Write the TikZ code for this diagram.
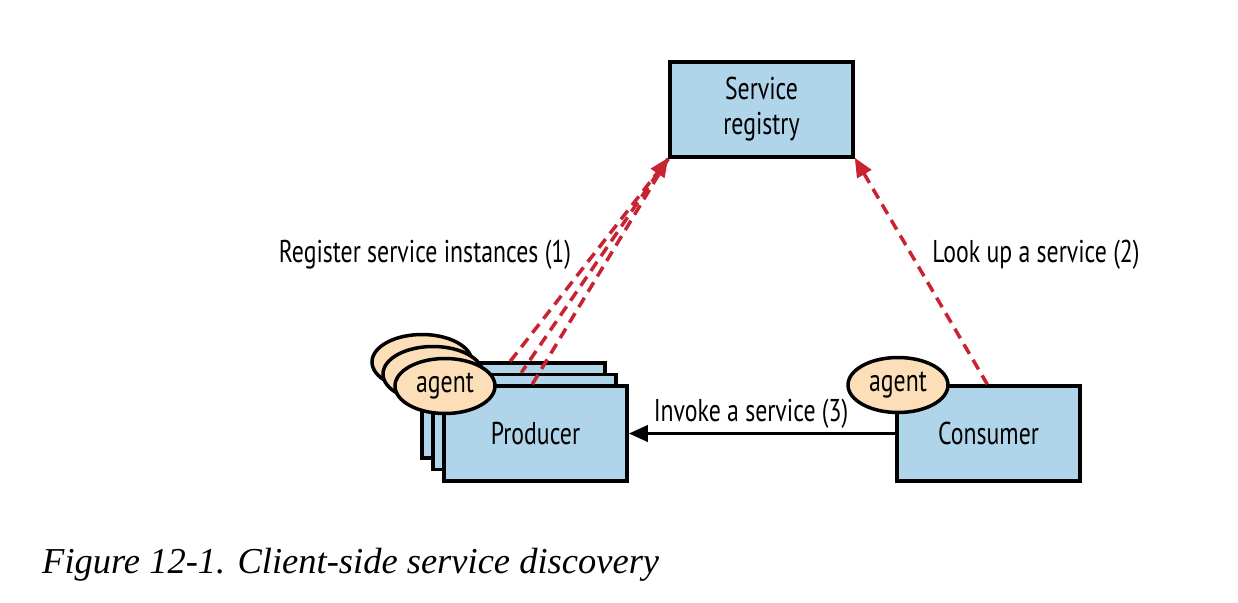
\documentclass[tikz,border=0pt]{standalone}
\usepackage{fontspec}
\setmainfont{PT Sans}[FakeStretch=0.755]
\newfontfamily\capfont{Liberation Serif}
\usetikzlibrary{arrows.meta,shapes.geometric}
\definecolor{boxblue}{RGB}{176,212,234}
\definecolor{agentfill}{RGB}{252,222,184}
\definecolor{dashred}{RGB}{200,35,50}
\tikzset{
  svcbox/.style={draw=black,line width=3.5pt,fill=boxblue,minimum width=183pt,minimum height=95pt,inner sep=0pt,align=center,font=\fontsize{31.5}{35}\selectfont},
  agentnode/.style={draw=black,line width=3.5pt,fill=agentfill,ellipse,minimum width=100pt,minimum height=55pt,inner sep=0pt,font=\fontsize{31.5}{32}\selectfont},
  reddash/.style={draw=dashred,line width=3.5pt,dash pattern=on 11pt off 7pt},
  lbl/.style={font=\fontsize{31.5}{32}\selectfont,inner sep=0pt}
}
\begin{document}
\begin{tikzpicture}[x=1pt,y=-1pt]
\useasboundingbox (0,0) rectangle (1238,602);
% registry
\node[svcbox] (reg) at (761.5,109.5) {Service\\registry};
% producer stack
\node[svcbox] (p1) at (513.5,410.5) {};
\node[svcbox] (p2) at (524.5,422) {};
\node[svcbox] (p3) at (535.5,433.5) {Producer};
\node[agentnode] (a1) at (422,362) {};
\node[agentnode] (a2) at (433,374) {};
\node[agentnode] (a3) at (445,386) {agent};
% consumer
\node[svcbox] (cons) at (988.5,433.5) {Consumer};
\node[agentnode] (ca) at (898,385) {agent};
% start coordinates of arrows
\path (p1.north west) ++(90,0) coordinate (s1);
\path (p2.north west) ++(90,0) coordinate (s2);
\path (p3.north west) ++(90,0) coordinate (s3);
\path (cons.north west) ++(92,0) coordinate (s4);
% register arrows
\draw[reddash] (s1) -- (reg.south west);
\draw[reddash] (s3) -- (reg.south west);
\draw[reddash,{Triangle[length=19pt,width=16pt]}-] ([yshift=1pt]reg.south west) -- (s2);
% lookup arrow
\draw[reddash,{Triangle[length=19pt,width=16pt]}-] ([yshift=1pt]reg.south east) -- (s4);
% invoke arrow
\draw[line width=3.5pt,-{Triangle[length=19pt,width=16pt]}] (cons.west) -- (p3.east);
% labels
\node[lbl] (l1) at (425,255) {Register service instances (1)};
\node[lbl] (l2) at (1036,255) {Look up a service (2)};
\node[lbl] (l3) at (751,414) {Invoke a service (3)};
\node[anchor=base west,inner sep=0pt,font=\capfont\itshape\fontsize{36.5}{42}\selectfont] (cap) at (42,573) {Figure 12-1. Client-side service discovery};
\end{tikzpicture}
\end{document}
